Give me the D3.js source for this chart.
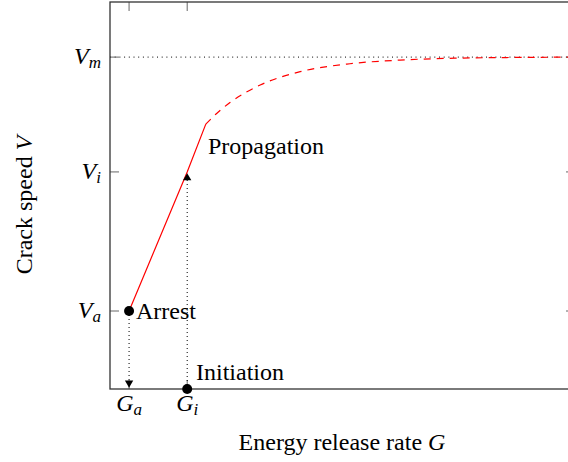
<!DOCTYPE html>
<html>
<head>
<meta charset="utf-8">
<script src="https://cdn.jsdelivr.net/npm/d3@7"></script>
<style>
  body { margin: 0; background: #fff; }
  text { font-family: "Liberation Serif", "Times New Roman", serif; fill: #000; }
</style>
</head>
<body>
<script>
'use strict';

// tick positions (G, V) and the subscripts used in their labels
const gTicks = [0.41, 1.66];
const gTickSubs = ["a", "i"];
const vTicks = [0.235, 0.654, 1.0];
const vTickSubs = ["a", "i", "m"];

// straight red part, arrest -> initiation -> end of linear range
const rampG = [0.41, 1.66, 2.06];
const rampV = [0.235, 0.654, 0.798];

// dashed red part approaching V_m
const curveG = [2.06, 2.30, 2.58, 3.23, 4.09, 5.16, 6.24, 7.53, 8.82, 10];
const curveV = [0.798, 0.831, 0.863, 0.916, 0.956, 0.980, 0.991, 0.997, 0.999, 1.0];

// axis limits
const gLimits = [0, 10];
const vLimits = [0, 1.166];

(function() {

  let svgContainer = "";

  window.onload = function() {
    svgContainer = d3.select('body')
      .append('svg')
      .attr('width', 568)
      .attr('height', 462);

    let map = drawAxes();
    plotData(map);
    makeLabels(map);
  }

  // box, ticks and tick labels
  function drawAxes() {
    let xScale = d3.scaleLinear()
      .domain(gLimits)
      .range([110, 575]);

    let yScale = d3.scaleLinear()
      .domain(vLimits)
      .range([389, 2]);

    let left = xScale(gLimits[0]), right = xScale(gLimits[1]);
    let bottom = yScale(vLimits[0]), top = yScale(vLimits[1]);

    // V_m guide line
    svgContainer.append('line')
      .attr('x1', left).attr('x2', right)
      .attr('y1', yScale(vTicks[2])).attr('y2', yScale(vTicks[2]))
      .style('stroke', '#000')
      .style('stroke-width', 1)
      .style('stroke-dasharray', '1,3.7');

    // ticks on all four sides, pointing inwards
    let tickLen = 9;
    let g = svgContainer.append('g')
      .style('stroke', '#666')
      .style('stroke-width', 1);
    gTicks.forEach((t) => {
      g.append('line').attr('x1', xScale(t)).attr('x2', xScale(t))
        .attr('y1', bottom).attr('y2', bottom - tickLen);
      g.append('line').attr('x1', xScale(t)).attr('x2', xScale(t))
        .attr('y1', top).attr('y2', top + tickLen);
    });
    vTicks.forEach((t) => {
      g.append('line').attr('x1', left).attr('x2', left + tickLen)
        .attr('y1', yScale(t)).attr('y2', yScale(t));
      g.append('line').attr('x1', right).attr('x2', right - tickLen)
        .attr('y1', yScale(t)).attr('y2', yScale(t));
    });

    // the frame
    svgContainer.append('rect')
      .attr('x', left).attr('y', top)
      .attr('width', right - left).attr('height', bottom - top)
      .style('fill', 'none')
      .style('stroke', '#333')
      .style('stroke-width', 1.3);

    // tick labels
    vTicks.forEach((t, i) => {
      let txt = svgContainer.append('text')
        .attr('x', 101)
        .attr('y', yScale(t) + 7)
        .attr('text-anchor', 'end')
        .style('font-size', '24px');
      txt.append('tspan').style('font-style', 'italic').text('V');
      txt.append('tspan').style('font-style', 'italic')
        .style('font-size', '17px').attr('dy', 4).text(vTickSubs[i]);
    });
    gTicks.forEach((t, i) => {
      let txt = svgContainer.append('text')
        .attr('x', xScale(t))
        .attr('y', 411)
        .attr('text-anchor', 'middle')
        .style('font-size', '24px');
      txt.append('tspan').style('font-style', 'italic').text('G');
      txt.append('tspan').style('font-style', 'italic')
        .style('font-size', '17px').attr('dy', 4).text(gTickSubs[i]);
    });

    return { x: xScale, y: yScale };
  }

  // red curve, dotted guides, arrows and dots
  function plotData(map) {
    let xMap = map.x, yMap = map.y;

    let ramp = rampG.map((g, i) => [g, rampV[i]]);
    let curve = curveG.map((g, i) => [g, curveV[i]]);

    let line = d3.line()
      .x((d) => xMap(d[0]))
      .y((d) => yMap(d[1]));

    svgContainer.append('path')
      .datum(ramp)
      .attr('d', line)
      .style('fill', 'none')
      .style('stroke', '#ff0000')
      .style('stroke-width', 1.2);

    svgContainer.append('path')
      .datum(curve)
      .attr('d', line.curve(d3.curveMonotoneX))
      .style('fill', 'none')
      .style('stroke', '#ff0000')
      .style('stroke-width', 1.2)
      .style('stroke-dasharray', '7,6');

    // dotted guides from arrest down to G_a and from G_i up to V_i
    let ga = gTicks[0], gi = gTicks[1];
    svgContainer.append('line')
      .attr('x1', xMap(ga)).attr('x2', xMap(ga))
      .attr('y1', yMap(rampV[0])).attr('y2', yMap(0) - 6)
      .style('stroke', '#000')
      .style('stroke-dasharray', '1,3');
    svgContainer.append('line')
      .attr('x1', xMap(gi)).attr('x2', xMap(gi))
      .attr('y1', yMap(0)).attr('y2', yMap(rampV[1]) + 6)
      .style('stroke', '#000')
      .style('stroke-dasharray', '1,3');

    // arrow heads
    let tri = d3.symbol().type(d3.symbolTriangle).size(30);
    svgContainer.append('path')
      .attr('d', tri)
      .attr('transform', `translate(${xMap(ga)},${yMap(0) - 6}) rotate(180)`)
      .style('fill', '#000');
    svgContainer.append('path')
      .attr('d', tri)
      .attr('transform', `translate(${xMap(gi)},${yMap(rampV[1]) + 6})`)
      .style('fill', '#000');

    // arrest and initiation points
    let dots = [[ga, rampV[0]], [gi, 0]];
    svgContainer.selectAll('.dot')
      .data(dots)
      .enter()
      .append('circle')
        .attr('cx', (d) => xMap(d[0]))
        .attr('cy', (d) => yMap(d[1]))
        .attr('r', 5)
        .style('fill', '#000');
  }

  // axis titles and annotations
  function makeLabels(map) {
    svgContainer.append('text')
      .attr('x', 208)
      .attr('y', 154)
      .style('font-size', '24px')
      .text('Propagation');

    svgContainer.append('text')
      .attr('x', 136)
      .attr('y', 319)
      .style('font-size', '24px')
      .text('Arrest');

    svgContainer.append('text')
      .attr('x', 196)
      .attr('y', 380)
      .style('font-size', '24px')
      .text('Initiation');

    let xt = svgContainer.append('text')
      .attr('x', 342)
      .attr('y', 450)
      .attr('text-anchor', 'middle')
      .style('font-size', '24px');
    xt.append('tspan').text('Energy release rate ');
    xt.append('tspan').style('font-style', 'italic').text('G');

    let yt = svgContainer.append('text')
      .attr('transform', 'translate(32, 205)rotate(-90)')
      .attr('text-anchor', 'middle')
      .style('font-size', '24px');
    yt.append('tspan').text('Crack speed ');
    yt.append('tspan').style('font-style', 'italic').text('V');
  }

})();
</script>
</body>
</html>
